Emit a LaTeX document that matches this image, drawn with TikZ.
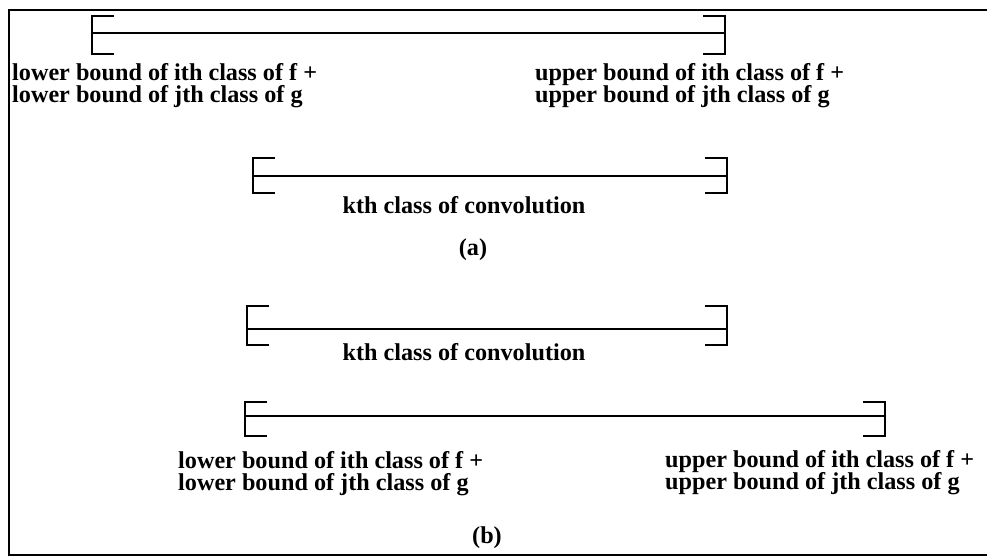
\documentclass[tikz,border=0pt]{standalone}
\usepackage{fontspec}
\setmainfont{Liberation Serif}

\begin{document}
\begin{tikzpicture}[
  x=1pt, y=-1pt,
  font=\fontsize{24.2}{22.5}\selectfont\bfseries,
  frame/.style={draw=black, line width=2pt},
  interval/.style={draw=black, line width=2.6pt},
  bracket/.style={interval, line cap=rect},
  bound/.style={inner sep=0pt, align=left, anchor=north west},
  classtext/.style={inner sep=0pt, anchor=north},
  caption/.style={inner sep=0pt}
]
\useasboundingbox (0,0) rectangle (987,558);

% open frame: the right edge runs off the page
\draw[frame] (987,10) -| (9,555) -- (987,555);

% intervals: name/left/right/line/up/down
\foreach \name/\xl/\xr/\y/\up/\dn in {
  sumA/92/725/33/17/21,
  convA/253/727/176/18/17,
  convB/247/727/329/23/16,
  sumB/245/885/416/14/20} {
  \coordinate (\name-lo) at (\xl,\y);
  \coordinate (\name-hi) at (\xr,\y);
  \draw[interval] (\name-lo) -- (\name-hi);
  \draw[bracket] ([shift={(21,-\up)}]\name-lo) -- ++(-21,0)
    -- ++(0,{\up+\dn}) -- ++(21,0);
  \draw[bracket] ([shift={(-21,-\up)}]\name-hi) -- ++(21,0)
    -- ++(0,{\up+\dn}) -- ++(-21,0);
}

% (a)
\node[bound] (lowA) at (12,63)
  {lower bound of ith class of f +\\lower bound of jth class of g};
\node[bound] (upA) at (535,63)
  {upper bound of ith class of f +\\upper bound of jth class of g};
\node[classtext] (kthA) at (464,196) {kth class of convolution};
\node[caption] (capA) at (473,250) {(a)};

% (b)
\node[classtext] (kthB) at (464,343) {kth class of convolution};
\node[bound] (lowB) at (178,451)
  {lower bound of ith class of f +\\lower bound of jth class of g};
\node[bound] (upB) at (665,450)
  {upper bound of ith class of f +\\upper bound of jth class of g};
\node[caption] (capB) at (487,538) {(b)};
\end{tikzpicture}
\end{document}
